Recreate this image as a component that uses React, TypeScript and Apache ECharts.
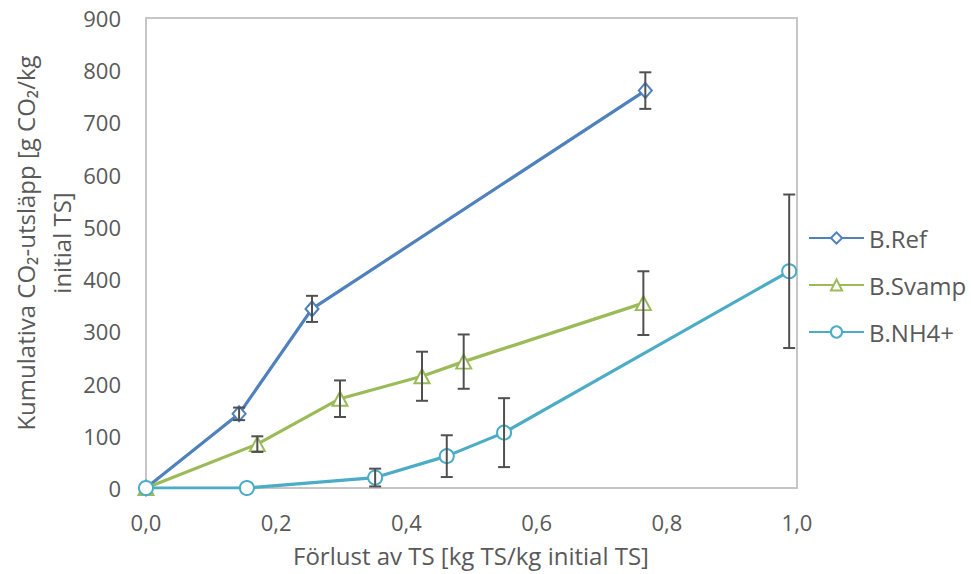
import React, { useEffect, useRef } from "react";
import * as echarts from "echarts";

const seriesNames = ["B.Ref", "B.Svamp", "B.NH4+"];
const refX = [0, 0.143, 0.255, 0.767];
const refY = [0, 142, 343, 761];
const refErr = [0, 12, 25, 35];
const svampX = [0, 0.171, 0.298, 0.424, 0.488, 0.764];
const svampY = [0, 84, 171, 214, 242, 354];
const svampErr = [0, 15, 35, 47, 52, 61];
const nh4X = [0, 0.155, 0.352, 0.462, 0.55, 0.988];
const nh4Y = [0, 0, 20, 61, 106, 415];
const nh4Err = [0, 0, 17, 40, 66, 147];
const xTicks = [0, 0.2, 0.4, 0.6, 0.8, 1.0];
const yTicks = [0, 100, 200, 300, 400, 500, 600, 700, 800, 900];

const colors = ["#4F81BD", "#9BBB59", "#4BACC6"];
const symbols = ["emptyDiamond", "emptyTriangle", "emptyCircle"];
const symbolSizes: any[] = [[13, 15], [15, 14], 14];
const FONT = "'Open Sans'";

export default function App() {
  const ref = useRef<HTMLDivElement>(null);
  useEffect(() => {
    if (!ref.current) return;
    const chart = echarts.init(ref.current, undefined, { renderer: "svg" });
    const xs = [refX, svampX, nh4X];
    const ys = [refY, svampY, nh4Y];
    const es = [refErr, svampErr, nh4Err];
    const lineSeries = seriesNames.map((name, i) => ({
      name,
      type: "line",
      data: xs[i].map((x, j) => [x, ys[i][j]]),
      symbol: symbols[i],
      symbolSize: symbolSizes[i],
      showSymbol: true,
      lineStyle: { color: colors[i], width: 3.2 },
      itemStyle: { color: colors[i], borderColor: colors[i], borderWidth: 2.5 },
      z: 2 + i,
    }));
    const errData: number[][] = [];
    xs.forEach((xa, i) =>
      xa.forEach((x, j) => {
        if (es[i][j] > 0) errData.push([x, ys[i][j] - es[i][j], ys[i][j] + es[i][j]]);
      })
    );
    const errSeries = {
      type: "custom",
      name: "err",
      silent: true,
      z: 10,
      encode: { x: 0, y: [1, 2] },
      data: errData,
      renderItem: (params: any, api: any) => {
        const x = api.value(0);
        const lo = api.coord([x, api.value(1)]);
        const hi = api.coord([x, api.value(2)]);
        const hw = 6;
        const style = { stroke: "#505050", lineWidth: 2 };
        return {
          type: "group",
          children: [
            { type: "line", shape: { x1: lo[0], y1: lo[1], x2: hi[0], y2: hi[1] }, style },
            { type: "line", shape: { x1: hi[0] - hw, y1: hi[1], x2: hi[0] + hw, y2: hi[1] }, style },
            { type: "line", shape: { x1: lo[0] - hw, y1: lo[1], x2: lo[0] + hw, y2: lo[1] }, style },
          ],
        };
      },
    };
    const axisLineStyle = { color: "#c6c6c6", width: 2 };
    chart.setOption({
      animation: false,
      backgroundColor: "#ffffff",
      textStyle: { fontFamily: FONT },
      grid: {
        left: 146,
        right: 174,
        top: 18,
        bottom: 86,
        show: true,
        borderColor: "#c6c6c6",
        borderWidth: 2,
        containLabel: false,
      },
      xAxis: {
        type: "value",
        min: xTicks[0],
        max: xTicks[xTicks.length - 1],
        interval: 0.2,
        axisLine: { show: true, lineStyle: axisLineStyle },
        axisTick: { show: false },
        splitLine: { show: false },
        axisLabel: {
          color: "#595959",
          fontSize: 22,
          fontFamily: FONT,
          margin: 23,
          formatter: (v: number) => v.toFixed(1).replace(".", ","),
        },
      },
      yAxis: {
        type: "value",
        min: yTicks[0],
        max: yTicks[yTicks.length - 1],
        interval: 100,
        axisLine: { show: true, lineStyle: axisLineStyle },
        axisTick: { show: false },
        splitLine: { show: false },
        axisLabel: { color: "#595959", fontSize: 22, fontFamily: FONT, margin: 25 },
      },
      legend: {
        data: seriesNames,
        orient: "vertical",
        left: 808,
        top: 226,
        padding: 0,
        itemWidth: 55,
        itemHeight: 14,
        itemGap: 23,
        textStyle: { color: "#595959", fontSize: 24, fontFamily: FONT, lineHeight: 22 },
      },
      graphic: [
        {
          type: "text",
          x: 471,
          y: 555,
          style: {
            text: "Förlust av TS [kg TS/kg initial TS]",
            fill: "#595959",
            font: `24px ${FONT}`,
            textAlign: "center",
            textVerticalAlign: "middle",
          },
        },
        {
          type: "text",
          x: 25,
          y: 243,
          rotation: Math.PI / 2,
          style: {
            text: "Kumulativa CO₂-utsläpp [g CO₂/kg",
            fill: "#595959",
            font: `24px ${FONT}`,
            textAlign: "center",
            textVerticalAlign: "middle",
          },
        },
        {
          type: "text",
          x: 61,
          y: 243,
          rotation: Math.PI / 2,
          style: {
            text: "initial TS]",
            fill: "#595959",
            font: `24px ${FONT}`,
            textAlign: "center",
            textVerticalAlign: "middle",
          },
        },
      ],
      series: [...lineSeries, errSeries],
    });
    return () => chart.dispose();
  }, []);
  return (
    <div
      ref={ref}
      style={{ position: "fixed", left: 0, top: 0, width: 971, height: 574, background: "#fff" }}
    />
  );
}
